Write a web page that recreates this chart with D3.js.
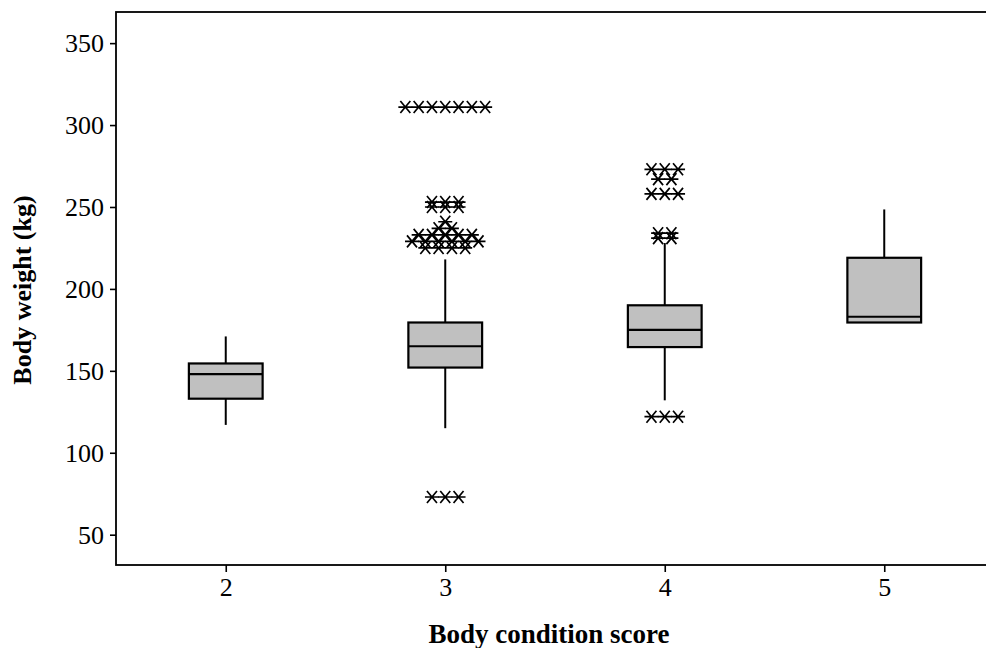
<!DOCTYPE html>
<html>
<head>
<meta charset="utf-8">
<script src="https://cdn.jsdelivr.net/npm/d3@7"></script>
<style>
  html, body { margin: 0; padding: 0; background: #fff; }
  svg { display: block; }
  text { font-family: "Liberation Serif", "Times New Roman", serif; fill: #000; }
</style>
</head>
<body>
<svg id="chart" width="986" height="648"></svg>
<script>
// Body condition score groups
const categories = [2, 3, 4, 5];

// Box summaries per group (kg): whisker ends, quartiles, median
const whiskerLow  = [117, 115, 132, 179.5];
const q1          = [133, 152, 164.5, 179.5];
const median      = [148, 165, 175, 183];
const q3          = [154.5, 179.5, 190, 219];
const whiskerHigh = [171, 218, 228, 248.5];

// Outlying body weights (kg), ties listed once per animal
const outliers2 = [];
const outliers3 = [73, 73, 73,
  311, 311, 311, 311, 311, 311, 311,
  253, 253, 253, 250, 250, 250,
  241, 237, 237,
  233, 233, 233, 233, 233,
  229, 229, 229, 229, 229, 229,
  225, 225, 225, 225];
const outliers4 = [122, 122, 122,
  273, 273, 273, 267, 267, 258, 258, 258,
  234, 234, 231, 231];
const outliers5 = [];
const outliers = [outliers2, outliers3, outliers4, outliers5];

const yTicks = [50, 100, 150, 200, 250, 300, 350];

const svg = d3.select("#chart");
const plotLeft = 116, plotRight = 994, plotTop = 12, plotBottom = 565;

const x = d3.scaleLinear().domain([1.5, 5.5]).range([plotLeft, plotRight]);
const y = d3.scaleLinear().domain([31.5, 369]).range([plotBottom, plotTop]);

const boxHalf = 0.168;   // half box width in category units
const tieStep = 13.3;    // horizontal spread between tied outliers (px)

// Plot frame
svg.append("rect")
  .attr("x", plotLeft).attr("y", plotTop)
  .attr("width", plotRight - plotLeft).attr("height", plotBottom - plotTop)
  .attr("fill", "none").attr("stroke", "#000").attr("stroke-width", 1.8);

// Y axis
const yAxis = svg.append("g")
  .attr("transform", `translate(${plotLeft},0)`)
  .call(d3.axisLeft(y).tickValues(yTicks).tickSize(6).tickPadding(6).tickFormat(d3.format("d")));
yAxis.select(".domain").remove();
yAxis.selectAll("line").attr("stroke", "#000").attr("stroke-width", 1.6);
yAxis.selectAll("text").attr("font-size", 26).attr("font-family", "Liberation Serif");

// X axis
const xAxis = svg.append("g")
  .attr("transform", `translate(0,${plotBottom})`)
  .call(d3.axisBottom(x).tickValues(categories).tickSize(7).tickPadding(6).tickFormat(d3.format("d")));
xAxis.select(".domain").remove();
xAxis.selectAll("line").attr("stroke", "#000").attr("stroke-width", 1.6);
xAxis.selectAll("text").attr("font-size", 26).attr("font-family", "Liberation Serif");

// Axis titles
svg.append("text")
  .attr("x", 549).attr("y", 643)
  .attr("text-anchor", "middle")
  .attr("font-size", 27).attr("font-weight", "bold")
  .text("Body condition score");

svg.append("text")
  .attr("transform", "translate(31,290) rotate(-90)")
  .attr("text-anchor", "middle")
  .attr("font-size", 26).attr("font-weight", "bold")
  .text("Body weight (kg)");

// Boxes and whiskers
const groups = svg.append("g").selectAll("g")
  .data(categories.map((c, i) => ({
    c, lo: whiskerLow[i], q1: q1[i], med: median[i], q3: q3[i], hi: whiskerHigh[i]
  })))
  .join("g");

groups.append("line")
  .attr("x1", d => x(d.c)).attr("x2", d => x(d.c))
  .attr("y1", d => y(d.q3)).attr("y2", d => y(d.hi))
  .attr("stroke", "#000").attr("stroke-width", 2);

groups.append("line")
  .attr("x1", d => x(d.c)).attr("x2", d => x(d.c))
  .attr("y1", d => y(d.lo)).attr("y2", d => y(d.q1))
  .attr("stroke", "#000").attr("stroke-width", 2);

groups.append("rect")
  .attr("x", d => x(d.c - boxHalf))
  .attr("width", d => x(d.c + boxHalf) - x(d.c - boxHalf))
  .attr("y", d => y(d.q3))
  .attr("height", d => y(d.q1) - y(d.q3))
  .attr("fill", "#c0c0c0").attr("stroke", "#000").attr("stroke-width", 2.2);

groups.append("line")
  .attr("x1", d => x(d.c - boxHalf)).attr("x2", d => x(d.c + boxHalf))
  .attr("y1", d => y(d.med)).attr("y2", d => y(d.med))
  .attr("stroke", "#000").attr("stroke-width", 2.2);

// Outliers: tied values are spread side by side around the group centre
const starPath = "M-7,0H7M-5,-6L5,6M-5,6L5,-6";
const points = [];
categories.forEach((c, i) => {
  const counts = d3.rollup(outliers[i], v => v.length, v => v);
  for (const [value, n] of counts) {
    for (let k = 0; k < n; k++) {
      points.push({ c, value, offset: (k - (n - 1) / 2) * tieStep });
    }
  }
});

svg.append("g").selectAll("path")
  .data(points)
  .join("path")
  .attr("transform", d => `translate(${x(d.c) + d.offset},${y(d.value)})`)
  .attr("d", starPath)
  .attr("fill", "none")
  .attr("stroke", "#000")
  .attr("stroke-width", 1.7);
</script>
</body>
</html>
